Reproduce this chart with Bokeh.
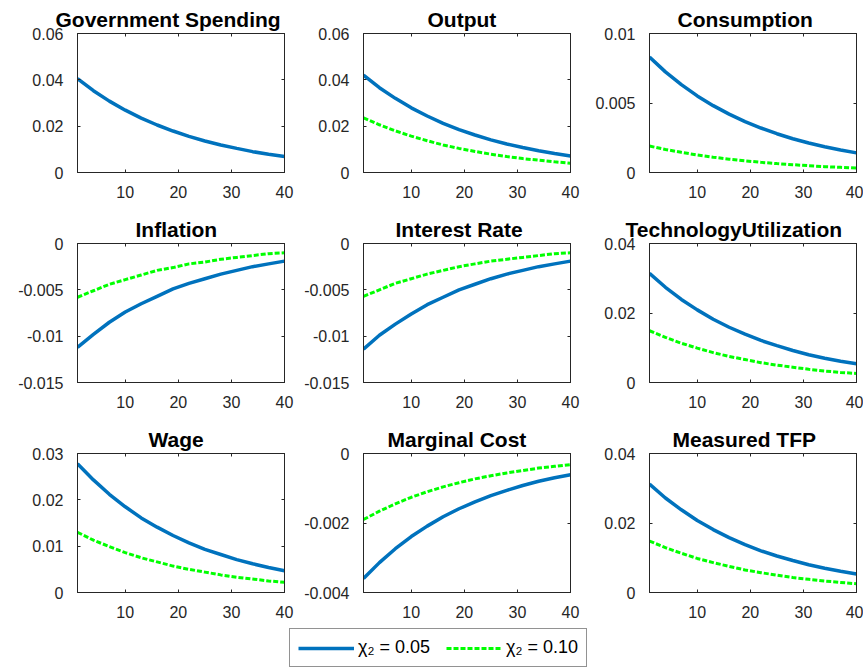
from bokeh.plotting import figure
from bokeh.layouts import column, row
from bokeh.models import (Range1d, FixedTicker, LinearAxis, CustomJSTickFormatter,
                          Legend, LegendItem)
from bokeh.embed import file_html
from bokeh.resources import INLINE

# ---------------- data ----------------
periods = [1, 4, 7, 10, 13, 16, 19, 22, 25, 28, 31, 34, 37, 40]

titles = ["Government Spending", "Output", "Consumption",
          "Inflation", "Interest Rate", "TechnologyUtilization",
          "Wage", "Marginal Cost", "Measured TFP"]

gov_blue = [0.0405, 0.0353, 0.0308, 0.0269, 0.0235, 0.0205, 0.0179, 0.0156, 0.0136, 0.0119, 0.0104, 0.0090, 0.0079, 0.0069]

out_blue = [0.0420, 0.0366, 0.0320, 0.0279, 0.0244, 0.0212, 0.0185, 0.0162, 0.0141, 0.0123, 0.0108, 0.0094, 0.0082, 0.0071]
out_green = [0.0236, 0.0206, 0.0180, 0.0157, 0.0137, 0.0119, 0.0104, 0.0091, 0.0079, 0.0069, 0.0060, 0.0053, 0.0046, 0.0040]

cons_blue = [0.0083, 0.00724, 0.00632, 0.00551, 0.00481, 0.00420, 0.00366, 0.00320, 0.00279, 0.00243, 0.00212, 0.00185, 0.00162, 0.00141]
cons_green = [0.0019, 0.00166, 0.00145, 0.00126, 0.00110, 0.00096, 0.00084, 0.00073, 0.00064, 0.00056, 0.00049, 0.00042, 0.00037, 0.00032]

infl_blue = [-0.0112, -0.0098, -0.0085, -0.0074, -0.0065, -0.0057, -0.0049, -0.0043, -0.0038, -0.0033, -0.0029, -0.0025, -0.0022, -0.0019]
infl_green = [-0.0058, -0.0051, -0.0044, -0.0039, -0.0034, -0.0029, -0.0026, -0.0022, -0.0020, -0.0017, -0.0015, -0.0013, -0.0011, -0.0010]

rate_blue = [-0.0114, -0.0099, -0.0087, -0.0076, -0.0066, -0.0058, -0.0050, -0.0044, -0.0038, -0.0033, -0.0029, -0.0025, -0.0022, -0.0019]
rate_green = [-0.0057, -0.0050, -0.0043, -0.0038, -0.0033, -0.0029, -0.0025, -0.0022, -0.0019, -0.0017, -0.0015, -0.0013, -0.0011, -0.0010]

tech_blue = [0.0314, 0.0274, 0.0239, 0.0209, 0.0182, 0.0159, 0.0139, 0.0121, 0.0106, 0.0092, 0.0080, 0.0070, 0.0061, 0.0054]
tech_green = [0.0149, 0.0130, 0.0113, 0.0099, 0.0086, 0.0075, 0.0066, 0.0057, 0.0050, 0.0044, 0.0038, 0.0033, 0.0029, 0.0026]

wage_blue = [0.0278, 0.0243, 0.0212, 0.0185, 0.0161, 0.0141, 0.0123, 0.0107, 0.0093, 0.0082, 0.0071, 0.0062, 0.0054, 0.0047]
wage_green = [0.0130, 0.0113, 0.0099, 0.0086, 0.0075, 0.0066, 0.0057, 0.0050, 0.0044, 0.0038, 0.0033, 0.0029, 0.0025, 0.0022]

mc_blue = [-0.0036, -0.00314, -0.00274, -0.00239, -0.00209, -0.00182, -0.00159, -0.00139, -0.00121, -0.00106, -0.00092, -0.00080, -0.00070, -0.00061]
mc_green = [-0.0019, -0.00166, -0.00145, -0.00126, -0.00110, -0.00096, -0.00084, -0.00073, -0.00064, -0.00056, -0.00049, -0.00042, -0.00037, -0.00032]

tfp_blue = [0.0312, 0.0272, 0.0238, 0.0207, 0.0181, 0.0158, 0.0138, 0.0120, 0.0105, 0.0092, 0.0080, 0.0070, 0.0061, 0.0053]
tfp_green = [0.0148, 0.0129, 0.0113, 0.0098, 0.0086, 0.0075, 0.0065, 0.0057, 0.0050, 0.0043, 0.0038, 0.0033, 0.0029, 0.0025]

blue_series = [gov_blue, out_blue, cons_blue, infl_blue, rate_blue, tech_blue, wage_blue, mc_blue, tfp_blue]
green_series = [None, out_green, cons_green, infl_green, rate_green, tech_green, wage_green, mc_green, tfp_green]

y_limits = [(0, 0.06), (0, 0.06), (0, 0.01),
            (-0.015, 0), (-0.015, 0), (0, 0.04),
            (0, 0.03), (-0.004, 0), (0, 0.04)]
y_ticks = [[0, 0.02, 0.04, 0.06], [0, 0.02, 0.04, 0.06], [0, 0.005, 0.01],
           [-0.015, -0.01, -0.005, 0], [-0.015, -0.01, -0.005, 0], [0, 0.02, 0.04],
           [0, 0.01, 0.02, 0.03], [-0.004, -0.002, 0], [0, 0.02, 0.04]]
x_ticks = [10, 20, 30, 40]
x_limits = (1, 40)

legend_labels = ["\u03c7\u2082 = 0.05", "\u03c7\u2082 = 0.10"]

# ---------------- styling / layout ----------------
BLUE = "#0072BD"
GREEN = "#00FF00"
AX = "#262626"
FONT = "Liberation Sans"
FRAME_W, FRAME_H = 207, 139
COL_LEFT = [77, 63, 61]
COL_RIGHT = [16, 18, 7]
ROW_TOP = [33, 33, 33]
ROW_BOTTOM = [38, 38, 33]
TITLE_OFFSET = [-22, 64, 28, 58, 32, -24, 71, 24, 23]

fmt = CustomJSTickFormatter(code="return String(tick);")


def make_panel(i):
    col = i % 3
    rw = i // 3
    left, right = COL_LEFT[col], COL_RIGHT[col]
    top, bottom = ROW_TOP[rw], ROW_BOTTOM[rw]
    p = figure(width=left + FRAME_W + right, height=top + FRAME_H + bottom,
               x_range=Range1d(*x_limits), y_range=Range1d(*y_limits[i]),
               toolbar_location=None, output_backend="svg",
               min_border_left=left, min_border_right=right,
               min_border_top=top, min_border_bottom=bottom,
               title=titles[i])
    p.xgrid.visible = False
    p.ygrid.visible = False
    p.outline_line_color = AX
    p.outline_line_width = 1
    p.background_fill_color = "white"
    p.border_fill_color = "white"

    p.title.text_font = FONT
    p.title.text_font_size = "21px"
    p.title.text_font_style = "bold"
    p.title.text_color = "black"
    p.title.align = "left"
    p.title.offset = TITLE_OFFSET[i]
    p.title.standoff = 5

    for ax, ticks in ((p.xaxis[0], x_ticks), (p.yaxis[0], y_ticks[i])):
        ax.ticker = FixedTicker(ticks=ticks)
        ax.formatter = fmt
        ax.major_tick_in = 3
        ax.major_tick_out = 0
        ax.minor_tick_in = 0
        ax.minor_tick_out = 0
        ax.axis_line_color = AX
        ax.major_tick_line_color = AX
        ax.major_label_text_font = FONT
        ax.major_label_text_font_size = "16px"
        ax.major_label_text_color = AX
    p.xaxis[0].major_label_standoff = 13
    p.yaxis[0].major_label_standoff = 14

    # mirrored inner ticks on the top and right edges (box on)
    for loc, ticks in (("above", x_ticks), ("right", y_ticks[i])):
        ax2 = LinearAxis(ticker=FixedTicker(ticks=ticks),
                         major_tick_in=3, major_tick_out=0,
                         minor_tick_in=0, minor_tick_out=0,
                         major_label_text_font_size="1px",
                         major_label_text_color=None,
                         major_label_standoff=0,
                         axis_line_color=AX, major_tick_line_color=AX)
        p.add_layout(ax2, loc)

    p.line(periods, blue_series[i], line_color=BLUE, line_width=3.5)
    if green_series[i] is not None:
        p.line(periods, green_series[i], line_color=GREEN, line_width=3,
               line_dash="5 2")
    return p


panels = [make_panel(i) for i in range(9)]

# ---------------- legend strip ----------------
lf = figure(width=863, height=43, toolbar_location=None, output_backend="svg",
            min_border=0, x_range=Range1d(100, 101), y_range=Range1d(100, 101))
lf.axis.visible = False
lf.grid.visible = False
lf.outline_line_color = None
# series drawn off-range: only their legend samples are visible
r1 = lf.line(periods, out_blue, line_color=BLUE, line_width=3.5)
r2 = lf.line(periods, out_green, line_color=GREEN, line_width=3, line_dash="5 2")
leg = Legend(items=[LegendItem(label=legend_labels[0], renderers=[r1]),
                    LegendItem(label=legend_labels[1], renderers=[r2])],
             orientation="horizontal", location=(289, 1), margin=0,
             padding=8, spacing=16, glyph_width=56, glyph_height=20,
             label_height=20, label_standoff=4, label_text_font=FONT,
             label_text_font_size="18px", label_text_color="black",
             border_line_color=AX, border_line_width=1,
             background_fill_color="white", background_fill_alpha=1)
lf.add_layout(leg, "center")

layout = column(row(*panels[0:3]), row(*panels[3:6]), row(*panels[6:9]), lf)

open("out.html", "w").write(file_html(layout, INLINE))
